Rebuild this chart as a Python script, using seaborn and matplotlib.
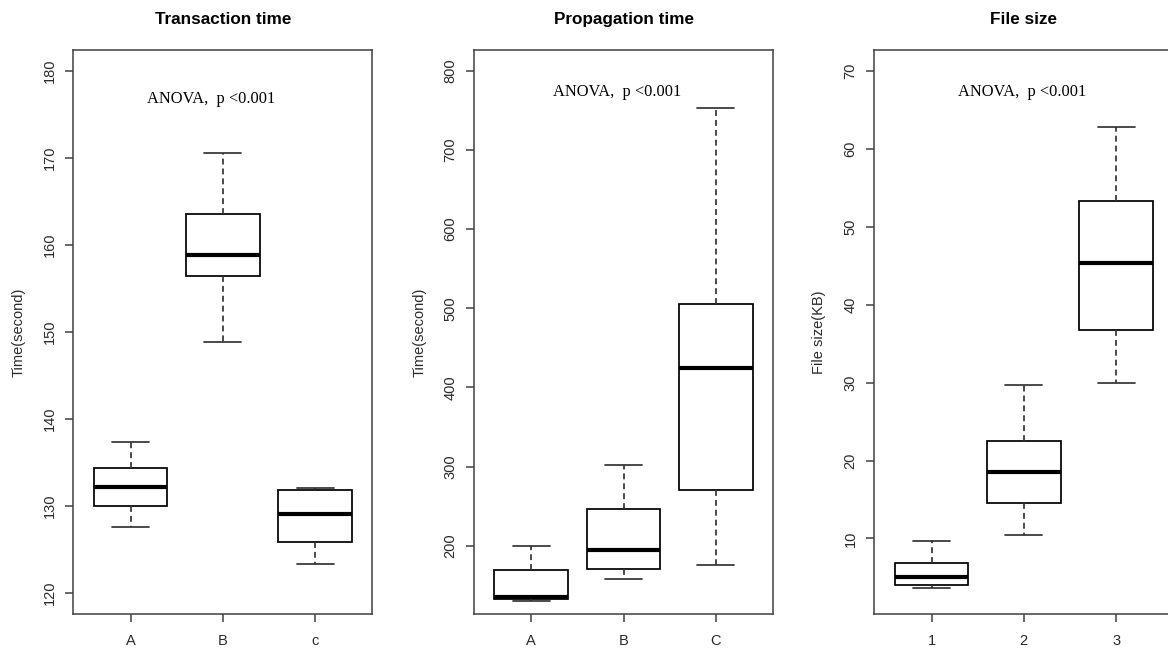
import numpy as np
import pandas as pd
import matplotlib
matplotlib.use("Agg")
import matplotlib.pyplot as plt
import seaborn as sns

# five-number summaries: min, q1, median, q3, max
trans_groups = ["A", "B", "c"]
trans_A = [127.6, 130.0, 132.2, 134.4, 137.4]
trans_B = [148.8, 156.4, 158.9, 163.5, 170.6]
trans_C = [123.3, 125.9, 129.1, 131.9, 132.1]

prop_groups = ["A", "B", "C"]
prop_A = [130, 133, 135, 169, 199]
prop_B = [158, 171, 195, 246, 302]
prop_C = [176, 270, 425, 506, 753]

size_groups = ["1", "2", "3"]
size_1 = [3.7, 4.0, 5.1, 6.8, 9.7]
size_2 = [10.4, 14.5, 18.5, 22.5, 29.7]
size_3 = [30.0, 36.7, 45.4, 53.3, 62.8]

titles = ["Transaction time", "Propagation time", "File size"]
ylabels = ["Time(second)", "Time(second)", "File size(KB)"]
anova_text = "ANOVA,  p <0.001"


def make_df(groups, values):
    rows = []
    for g, vals in zip(groups, values):
        for v in vals:
            rows.append((g, v))
    return pd.DataFrame(rows, columns=["group", "value"])


sns.set_style("white")
plt.rcParams["font.family"] = ["Liberation Sans", "DejaVu Sans"]
plt.rcParams["text.color"] = "black"

panels = [
    (trans_groups, [trans_A, trans_B, trans_C], (117.6, 182.4), np.arange(120, 181, 10), (0.46, 0.913)),
    (prop_groups, [prop_A, prop_B, prop_C], (113.6, 826.4), np.arange(200, 801, 100), (0.48, 0.925)),
    (size_groups, [size_1, size_2, size_3], (0.3, 72.7), np.arange(10, 71, 10), (0.494, 0.925)),
]

W, H = 1168, 650
lefts = [73.3, 474.0, 874.3]

fig = plt.figure(figsize=(W / 100, H / 100), dpi=100)

for i, (groups, vals, ylim, yticks, txt_pos) in enumerate(panels):
    ax = fig.add_axes([lefts[i] / W, 36 / H, 299 / W, 564 / H])
    df = make_df(groups, vals)
    sns.boxplot(
        data=df, x="group", y="value", order=groups, ax=ax,
        whis=(0, 100), width=0.8, color="white", linecolor="black",
        linewidth=1.25, saturation=1, showfliers=False,
        medianprops=dict(linewidth=3.0),
        whiskerprops=dict(linestyle=(0, (3.4, 2.3)), color="#333333"),
        capprops=dict(color="#333333"),
    )
    ax.set_xlim(-0.62, 2.62)
    ax.set_ylim(*ylim)
    ax.set_yticks(yticks)
    ax.set_yticklabels([str(t) for t in yticks], rotation=90, va="center",
                       fontsize=10.5, color="#2a2a2a")
    ax.set_xticks(range(3))
    ax.set_xticklabels(groups, fontsize=10.5, color="#2a2a2a")
    ax.tick_params(axis="both", direction="out", length=5.5, width=1.1,
                   color="#404040", left=True, bottom=True)
    ax.tick_params(axis="y", pad=6.5)
    ax.tick_params(axis="x", pad=9)

    ax.set_xlabel("")
    ax.set_ylabel(ylabels[i], fontsize=10.5, color="#2a2a2a")
    ax.yaxis.set_label_coords(-0.16, 0.5)
    ax.set_title(titles[i], fontsize=12.3, fontweight="bold", pad=19, color="black")

    ax.text(txt_pos[0], txt_pos[1], anova_text, transform=ax.transAxes,
            ha="center", va="center", family="Liberation Serif", fontsize=11.8,
            color="black")

    for s in ax.spines.values():
        s.set_visible(True)
        s.set_color("#404040")
        s.set_linewidth(1.1)

fig.savefig("out.png", dpi=100)
